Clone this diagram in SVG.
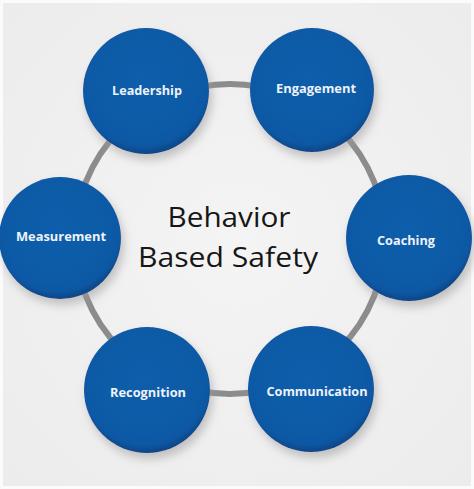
<svg xmlns="http://www.w3.org/2000/svg" width="474" height="489" viewBox="0 0 474 489">
  <defs>
    <radialGradient id="bg" cx="50%" cy="50%" r="70%">
      <stop offset="0" stop-color="#f4f4f4"/>
      <stop offset="1" stop-color="#ececec"/>
    </radialGradient>
    <radialGradient id="ball" cx="48%" cy="42%" r="58%">
      <stop offset="0" stop-color="#115eab"/>
      <stop offset="0.88" stop-color="#0e59a5"/>
      <stop offset="1" stop-color="#0a4687"/>
    </radialGradient>
    <filter id="shadow" x="-30%" y="-30%" width="160%" height="170%">
      <feDropShadow dx="3" dy="6" stdDeviation="5" flood-color="#9a9a9a" flood-opacity="0.55"/>
    </filter>
  </defs>
  <style>
    .node circle { fill: url(#ball); filter: url(#shadow); }
    .node text { font-family: "Open Sans", "Noto Sans", sans-serif; font-weight: 700; font-size: 12.5px; fill: #eef3fa; text-anchor: middle; }
    .title { font-family: "Open Sans", "Noto Sans", sans-serif; font-size: 28px; fill: #161616; text-anchor: middle; }
  </style>
  <rect width="474" height="489" fill="#fbfbfb"/>
  <rect x="3" y="3" width="468" height="483" fill="url(#bg)"/>
  <g id="connectors">
    <circle cx="230" cy="239" r="155" fill="none" stroke="#8c8c8c" stroke-width="6"/>
  </g>
  <text class="title" x="229" y="227" textLength="123" lengthAdjust="spacingAndGlyphs">Behavior</text>
  <text class="title" x="228" y="267" textLength="180" lengthAdjust="spacingAndGlyphs">Based Safety</text>
  <g id="leadership" class="node">
    <circle cx="146" cy="91" r="63"/>
    <text x="147" y="95" textLength="70" lengthAdjust="spacingAndGlyphs">Leadership</text>
  </g>
  <g id="engagement" class="node">
    <circle cx="312" cy="90" r="62"/>
    <text x="316" y="93" textLength="80" lengthAdjust="spacingAndGlyphs">Engagement</text>
  </g>
  <g id="coaching" class="node">
    <circle cx="409" cy="238" r="63"/>
    <text x="406" y="245" textLength="58" lengthAdjust="spacingAndGlyphs">Coaching</text>
  </g>
  <g id="communication" class="node">
    <circle cx="311" cy="389" r="63"/>
    <text x="317" y="396" textLength="101" lengthAdjust="spacingAndGlyphs">Communication</text>
  </g>
  <g id="recognition" class="node">
    <circle cx="147" cy="390" r="63"/>
    <text x="148" y="397" textLength="76" lengthAdjust="spacingAndGlyphs">Recognition</text>
  </g>
  <g id="measurement" class="node">
    <circle cx="60" cy="238" r="61"/>
    <text x="61" y="241" textLength="90" lengthAdjust="spacingAndGlyphs">Measurement</text>
  </g>
</svg>
